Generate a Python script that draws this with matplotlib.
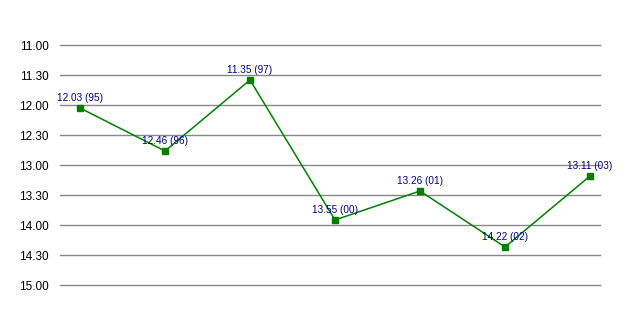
import matplotlib.pyplot as plt

# race times (min.sec) per season
years = ['95', '96', '97', '00', '01', '02', '03']
times = ['12.03', '12.46', '11.35', '13.55', '13.26', '14.22', '13.11']
tick_labels = ['11.00', '11.30', '12.00', '12.30', '13.00', '13.30', '14.00', '14.30', '15.00']

def to_sec(t):
  m, s = t.split('.')
  return int(m) * 60 + int(s)

secs = [to_sec(t) for t in times]
tick_secs = [to_sec(t) for t in tick_labels]
xs = list(range(len(years)))

plt.rcParams['font.family'] = ['Liberation Sans', 'DejaVu Sans']

fig = plt.figure(figsize=(6.38, 3.15), dpi=100)
W, H = 638, 315
ax = fig.add_axes([60 / W, 1 - 285 / H, 540 / W, 240 / H])

for t in tick_secs:
  ax.axhline(t, color='#888888', lw=1.0, zorder=1, clip_on=False)

ax.plot(xs, secs, color='#008000', lw=1.1, marker='s', ms=4.5,
        markerfacecolor='#008000', markeredgecolor='#008000', zorder=3)

for x, s, t, yr in zip(xs, secs, times, years):
  ax.annotate('%s (%s)' % (t, yr), (x, s), xytext=(0, 3.5), textcoords='offset points',
              ha='center', va='bottom', color='#000080', fontsize=7.2, zorder=4)

ax.set_xlim((60 - 80) / 85, (600 - 80) / 85)
ax.set_ylim(900, 660)
ax.set_yticks(tick_secs)
ax.set_yticklabels(tick_labels, fontsize=8.5)
ax.tick_params(axis='y', length=0, pad=8)
ax.set_xticks([])
for sp in ax.spines.values():
  sp.set_visible(False)

fig.savefig('out.png', dpi=100)
